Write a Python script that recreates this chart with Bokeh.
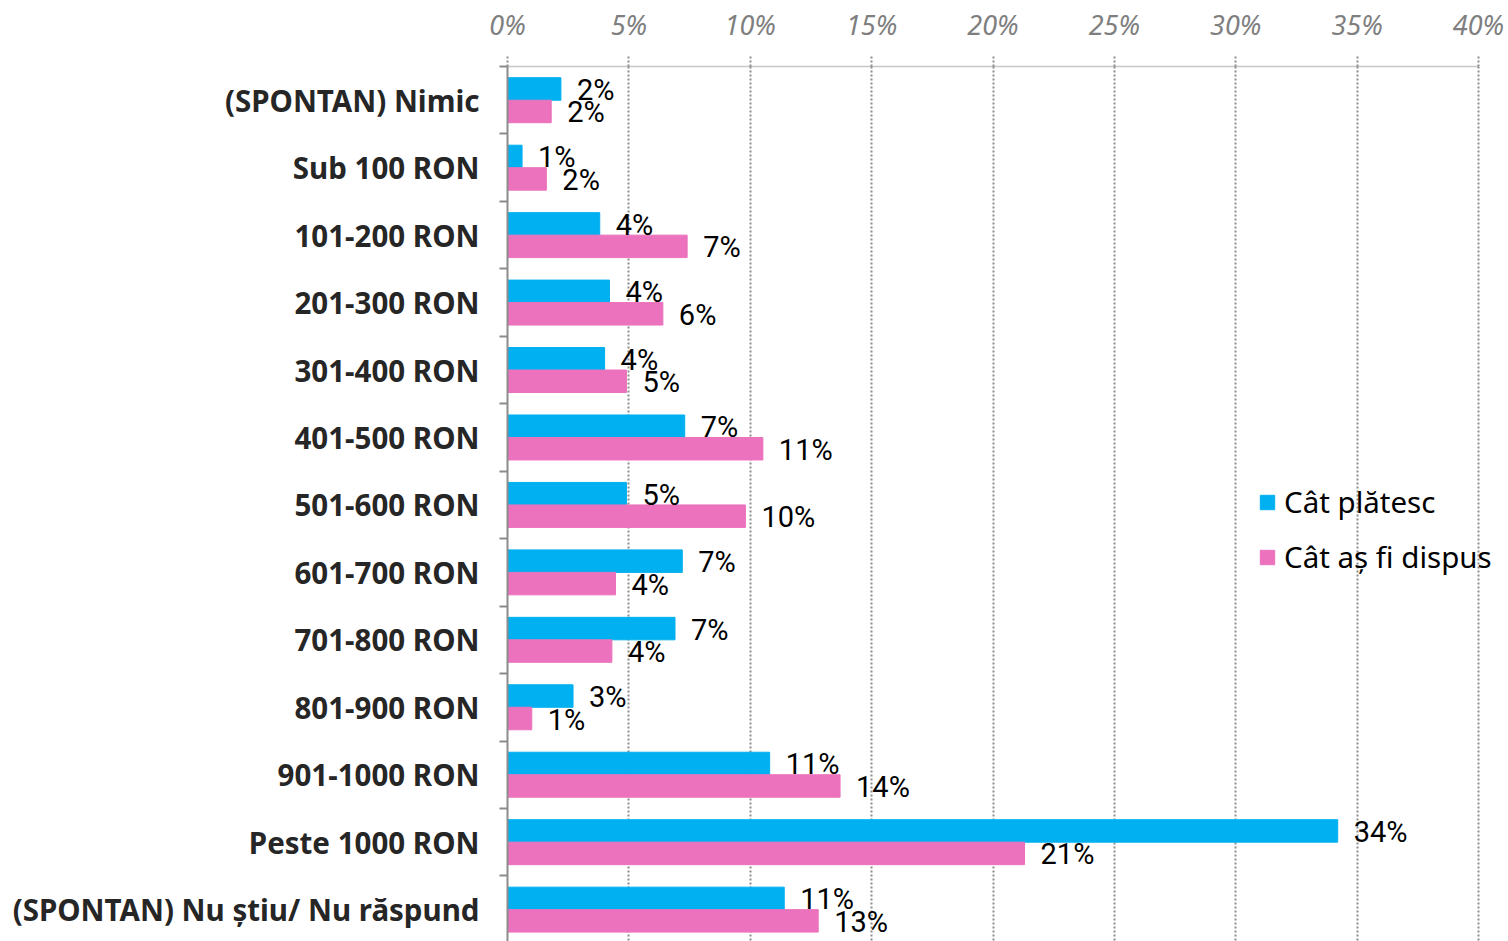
from bokeh.plotting import figure
from bokeh.models import ColumnDataSource, Range1d, FixedTicker
from bokeh.core.properties import value
from bokeh.embed import file_html
from bokeh.resources import INLINE

categories = ["(SPONTAN) Nimic", "Sub 100 RON", "101-200 RON", "201-300 RON", "301-400 RON",
              "401-500 RON", "501-600 RON", "601-700 RON", "701-800 RON", "801-900 RON",
              "901-1000 RON", "Peste 1000 RON", "(SPONTAN) Nu știu/ Nu răspund"]
cat_platesc = [2.2, 0.6, 3.8, 4.2, 4.0, 7.3, 4.9, 7.2, 6.9, 2.7, 10.8, 34.2, 11.4]
cat_dispus = [1.8, 1.6, 7.4, 6.4, 4.9, 10.52, 9.8, 4.45, 4.3, 1.0, 13.7, 21.3, 12.8]
x_ticks = [0, 5, 10, 15, 20, 25, 30, 35, 40]
series_names = ["Cât plătesc", "Cât aș fi dispus"]

BLUE = "#00B0F0"
PINK = "#EC72BD"

PX_PER_PCT = 971 / 40.0
FRAME_W = 1001
FRAME_H = 875
ROW_PX = 67.45

n = len(categories)
centers = [i + 0.5 for i in range(n)]
src_b = ColumnDataSource(dict(y=[c - 1/6 for c in centers], v=cat_platesc,
                              lbl=[f"{round(v)}%" for v in cat_platesc]))
src_p = ColumnDataSource(dict(y=[c + 1/6 for c in centers], v=cat_dispus,
                              lbl=[f"{round(v)}%" for v in cat_dispus]))

p = figure(frame_width=FRAME_W, frame_height=FRAME_H,
           x_range=Range1d(0, FRAME_W / PX_PER_PCT),
           y_range=Range1d(FRAME_H / ROW_PX, 0), output_backend="svg", toolbar_location=None,
           x_axis_location="above", min_border_left=507, min_border_right=0,
           min_border_top=66, min_border_bottom=0)
p.outline_line_color = None
p.background_fill_color = "white"

p.hbar(y="y", right="v", left=0, height=1/3, source=src_b, color=BLUE,
       line_color=BLUE, legend_label=series_names[0])
p.hbar(y="y", right="v", left=0, height=1/3, source=src_p, color=PINK,
       line_color=PINK, legend_label=series_names[1])

label_font = value("Roboto")
for s in (src_b, src_p):
    p.text(x="v", y="y", text="lbl", source=s, x_offset=16, y_offset=1,
           text_align="left", text_baseline="middle", text_font=label_font,
           text_font_size="29px", text_color="black")

# top x axis
xa = p.xaxis[0]
xa.ticker = FixedTicker(ticks=x_ticks)
xa.bounds = (0, 40)
xa.major_label_overrides = {t: f"{t}%" for t in x_ticks}
xa.major_label_text_font = "Noto Sans"
xa.major_label_text_font_style = "italic"
xa.major_label_text_font_size = "27px"
xa.major_label_text_color = "#7F7F7F"
xa.major_label_standoff = 14
xa.axis_line_color = "#8C8C8C"
xa.axis_line_dash = "1 1"
xa.axis_line_width = 1.5
xa.major_tick_line_color = "#8C8C8C"
xa.major_tick_line_dash = "2 2"
xa.major_tick_line_width = 2
xa.major_tick_out = 10
xa.major_tick_in = 0
xa.minor_tick_line_color = None

p.xgrid.ticker = FixedTicker(ticks=x_ticks[1:])
p.xgrid.grid_line_color = "#8C8C8C"
p.xgrid.grid_line_dash = "2 2"
p.xgrid.grid_line_width = 2
p.ygrid.grid_line_color = None

# left axis: labels at row centres, ticks at row boundaries
ya = p.yaxis[0]
ya.ticker = FixedTicker(ticks=centers, minor_ticks=list(range(n + 1)))
ya.major_label_overrides = {c: cat for c, cat in zip(centers, categories)}
ya.major_label_text_font = "Noto Sans"
ya.major_label_text_font_style = "bold"
ya.major_label_text_font_size = "29.5px"
ya.major_label_text_color = "#262626"
ya.major_label_standoff = 20
ya.major_tick_out = 0
ya.major_tick_in = 0
ya.minor_tick_out = 8
ya.minor_tick_in = 0
ya.minor_tick_line_color = "#8C8C8C"
ya.minor_tick_line_width = 2
ya.axis_line_color = "#8C8C8C"
ya.axis_line_width = 2

leg = p.legend[0]
leg.location = (751, 364)
leg.orientation = "vertical"
leg.background_fill_alpha = 0
leg.border_line_color = None
leg.padding = 0
leg.margin = 0
leg.spacing = 14
leg.glyph_width = 18
leg.glyph_height = 18
leg.label_standoff = 8
leg.label_text_font = "Noto Sans"
leg.label_text_font_size = "29.5px"
leg.label_text_color = "black"
leg.label_height = 36

open("out.html", "w").write(file_html(p, INLINE))
